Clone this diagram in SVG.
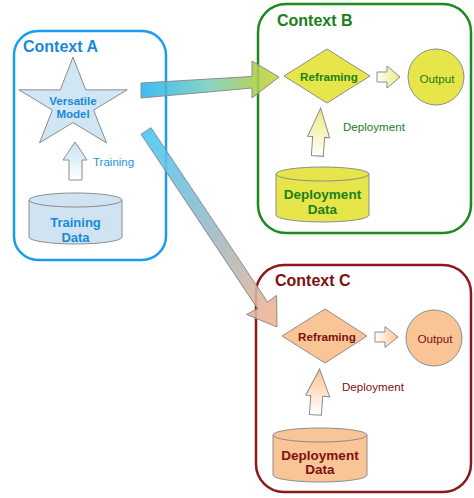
<svg xmlns="http://www.w3.org/2000/svg" width="474" height="498" viewBox="0 0 474 498">
<defs>
<linearGradient id="gAB" gradientUnits="userSpaceOnUse" x1="141" y1="0" x2="279" y2="0">
<stop offset="0" stop-color="#25b2f0"/><stop offset="0.5" stop-color="#78cfbc"/><stop offset="0.8" stop-color="#a6cc52"/><stop offset="1" stop-color="#c8d63a"/>
</linearGradient>
<linearGradient id="gAC" gradientUnits="userSpaceOnUse" x1="146" y1="131" x2="277" y2="327">
<stop offset="0" stop-color="#44c6f6"/><stop offset="0.5" stop-color="#98bac6"/><stop offset="1" stop-color="#f8b28c"/>
</linearGradient>
<linearGradient id="upBlue" x1="0" y1="0" x2="0" y2="1"><stop offset="0" stop-color="#c6e1f5"/><stop offset="1" stop-color="#ffffff"/></linearGradient>
<linearGradient id="upYel" x1="0" y1="0" x2="0" y2="1"><stop offset="0" stop-color="#eaec78"/><stop offset="1" stop-color="#ffffff"/></linearGradient>
<linearGradient id="upOr" x1="0" y1="0" x2="0" y2="1"><stop offset="0" stop-color="#fbc496"/><stop offset="1" stop-color="#ffffff"/></linearGradient>
<linearGradient id="rtYel" x1="0" y1="0" x2="1" y2="0"><stop offset="0" stop-color="#ffffff"/><stop offset="1" stop-color="#eaec78"/></linearGradient>
<linearGradient id="rtOr" x1="0" y1="0" x2="1" y2="0"><stop offset="0" stop-color="#ffffff"/><stop offset="1" stop-color="#fbc496"/></linearGradient>
</defs>
<style>
text{font-family:"Liberation Sans",Arial,sans-serif;}
.ctx{fill:none;stroke-width:2.5;}
.title{font-size:16px;font-weight:bold;}
.shape{stroke:#8c8c8c;stroke-width:1;}
.b{font-weight:bold;}
.c{text-anchor:middle;}
.blue{fill:#1a8ad8;}
.green{fill:#1a801a;}
.red{fill:#7f1010;}
</style>
<g id="contextA">
<rect class="ctx" x="14" y="31" width="152" height="229" rx="24" stroke="#1a9cf0"/>
<text class="title blue" x="23" y="52">Context A</text>
</g>
<g id="versatileModel">
<polygon class="shape" fill="#d0e6f5" points="73,57 85.7,89.9 127.2,89.8 93.6,110.1 106.5,142.9 73,122.6 39.5,142.9 52.4,110.1 18.8,89.8 60.3,89.9"/>
<text class="b c blue" font-size="11.5" x="73" y="105">Versatile</text>
<text class="b c blue" font-size="11.5" x="73" y="118">Model</text>
</g>
<g id="trainingArrow">
<polygon class="shape" fill="url(#upBlue)" points="75,142 87,160 82,160 82,180 69,180 69,160 63,160"/>
<text font-size="11.5" fill="#2196e0" x="93" y="166">Training</text>
</g>
<g id="trainingData">
<path class="shape" fill="#cfe3f3" d="M29,200 V237 A46.5,7 0 0 0 122,237 V200 Z"/>
<ellipse class="shape" fill="#cfe3f3" cx="75.5" cy="200" rx="46.5" ry="7"/>
<text class="b c blue" font-size="13" x="75.5" y="227">Training</text>
<text class="b c blue" font-size="13" x="75.5" y="242">Data</text>
</g>
<g id="contextB">
<rect class="ctx" x="258" y="4" width="213" height="229" rx="28" stroke="#1e8a1e"/>
<text class="title green" x="277" y="26">Context B</text>
</g>
<g id="reframingB">
<polygon class="shape" fill="#e6e64a" points="284,76 327,49 370,76 327,103"/>
<text class="b c green" font-size="11.7" x="329" y="81">Reframing</text>
</g>
<g id="outputB">
<circle class="shape" fill="#e6e64a" cx="436" cy="77" r="28"/>
<text class="c green" font-size="11.7" x="437" y="82.5">Output</text>
</g>
<g id="deployArrowB">
<polygon class="shape" fill="url(#upYel)" transform="rotate(4 319 132)" points="319,108 330,137 325,137 325,156 313,156 313,137 308,137"/>
<text class="green" font-size="11.6" x="343" y="131">Deployment</text>
</g>
<g id="deploymentDataB">
<path class="shape" fill="#e6e64a" d="M276,174 V215 A46.5,7 0 0 0 369,215 V174 Z"/>
<ellipse class="shape" fill="#e6e64a" cx="322.5" cy="174" rx="46.5" ry="7"/>
<text class="b c green" font-size="13.5" x="322.5" y="199">Deployment</text>
<text class="b c green" font-size="13.5" x="322.5" y="213.5">Data</text>
</g>
<g id="contextC">
<rect class="ctx" x="256" y="265" width="215" height="227" rx="28" stroke="#8b1a1a"/>
<text class="title red" x="275" y="286">Context C</text>
</g>
<g id="reframingC">
<polygon class="shape" fill="#f9c596" points="282,336 325,309 367,336 325,363"/>
<text class="b c red" font-size="11.7" x="327" y="341">Reframing</text>
</g>
<g id="outputC">
<circle class="shape" fill="#f9c596" cx="434" cy="338" r="28"/>
<text class="c red" font-size="11.7" x="435" y="343">Output</text>
</g>
<g id="deployArrowC">
<polygon class="shape" fill="url(#upOr)" transform="rotate(4 318 392)" points="318,369 330,396 323,396 323,415 311,415 311,396 306,396"/>
<text class="red" font-size="11.6" x="342" y="391">Deployment</text>
</g>
<g id="deploymentDataC">
<path class="shape" fill="#f9c596" d="M273,435 V475 A47,7 0 0 0 367,475 V435 Z"/>
<ellipse class="shape" fill="#f9c596" cx="320" cy="435" rx="47" ry="7"/>
<text class="b c red" font-size="13.5" x="320" y="460">Deployment</text>
<text class="b c red" font-size="13.5" x="320" y="474">Data</text>
</g>
<g id="connectors">
<polygon class="shape" fill="url(#gAB)" fill-opacity="0.88" points="141,83 252,76.5 252,61 279,77 252,98 252,88 141,98"/>
<polygon class="shape" fill="url(#gAC)" fill-opacity="0.88" points="141,134.3 257.6,308.7 246.6,314.4 277,327 276.6,295.4 267.6,302.1 151,127.7"/>
<polygon class="shape" fill="url(#rtYel)" points="377,72 387,72 387,66 400,77 387,88 387,82 377,82"/>
<polygon class="shape" fill="url(#rtOr)" points="375,332 385,332 385,326.5 398,337 385,347.5 385,342 375,342"/>
</g>
</svg>
